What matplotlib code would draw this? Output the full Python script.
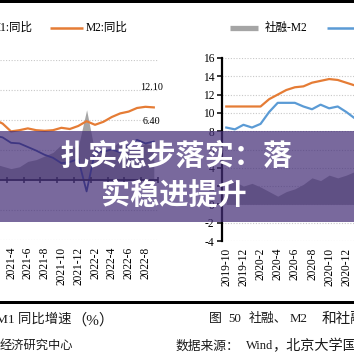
import matplotlib
matplotlib.use("Agg")
import matplotlib.pyplot as plt
import numpy as np
from matplotlib.patches import Rectangle

W = H = 354
SERIF = ['Liberation Serif', 'Noto Sans CJK SC']
CJK = ['Noto Sans CJK SC', 'Liberation Serif']

# ---------------- data ----------------
left_months = ['2021-1', '2021-2', '2021-3', '2021-4', '2021-5', '2021-6', '2021-7',
               '2021-8', '2021-9', '2021-10', '2021-11', '2021-12', '2022-1', '2022-2',
               '2022-3', '2022-4', '2022-5', '2022-6', '2022-7', '2022-8', '2022-9']
m2_left = [9.4, 10.1, 9.4, 8.1, 8.3, 8.6, 8.3, 8.2, 8.3, 8.7, 8.5, 9.0, 9.8, 9.2,
           9.7, 10.5, 11.1, 11.4, 12.0, 12.2, 12.1]
m1_left = [14.7, 7.4, 7.1, 6.2, 6.1, 5.5, 4.9, 4.2, 3.7, 2.8, 3.0, 3.5, -1.9, 4.7,
           4.7, 5.1, 4.6, 5.8, 6.7, 6.1, 6.4]
left_tick_labels = ['2021-4', '2021-6', '2021-8', '2021-10', '2021-12',
                    '2022-2', '2022-4', '2022-6', '2022-8']
left_end_labels = ['12.10', '6.40']

right_months = ['2019-10', '2019-11', '2019-12', '2020-1', '2020-2', '2020-3', '2020-4',
                '2020-5', '2020-6', '2020-7', '2020-8', '2020-9', '2020-10', '2020-11',
                '2020-12', '2021-1', '2021-2']
tsf_right = [10.7, 10.7, 10.7, 10.7, 10.7, 11.5, 12.0, 12.5, 12.8, 12.9, 13.3, 13.5,
             13.7, 13.6, 13.3, 13.0, 13.3]
m2_right = [8.4, 8.2, 8.7, 8.4, 8.8, 10.1, 11.1, 11.1, 11.1, 10.7, 10.4, 10.9, 10.5,
            10.7, 10.1, 9.4, 10.1]
right_tick_labels = ['2019-10', '2019-12', '2020-2', '2020-4', '2020-6', '2020-8',
                     '2020-10', '2020-12']
right_yticks = [-4, -2, 0, 2, 4, 6, 8, 10, 12, 14, 16]

ORANGE = '#E57C35'
BLUE_L = '#2E4A9C'
BLUE_R = '#5B9BD5'
GREY = '#A5A5A5'
TXT = '#1a1a1a'

fig = plt.figure(figsize=(W / 100, H / 100), dpi=100)
fig.patch.set_facecolor('white')


def px_axes(x0, y0, x1, y1, **kw):
    return fig.add_axes([x0 / W, 1 - y1 / H, (x1 - x0) / W, (y1 - y0) / H], **kw)


# ---------------- left chart ----------------
axL = px_axes(0, 60, 158, 240)
xi = np.arange(len(left_months))
m2a = np.array(m2_left)
m1a = np.array(m1_left)
axL.fill_between(xi, 0, m2a - m1a, color=GREY, lw=0, zorder=1)
axL.plot(xi, m2a, color=ORANGE, lw=1.6, zorder=3)
axL.plot(xi, m1a, color=BLUE_L, lw=1.3, zorder=3)
axL.axhline(0, color='#1a1a2a', lw=1.3, zorder=4)
tick_pos = np.arange(2.5, 21, 2)
axL.plot(tick_pos, np.zeros_like(tick_pos), ls='none', marker='|', ms=5,
         mew=1.1, color='#1a1a2a', zorder=4, clip_on=False)
axL.set_xlim(1.69, 20.5)
axL.set_ylim(-10, 20)
for s in axL.spines.values():
    s.set_visible(False)
axL.set_yticks([-10, -5, 5, 10, 15, 20])
axL.tick_params(axis='y', length=0, labelleft=False)
axL.yaxis.grid(True, ls=(0, (1, 1.5)), color='#c8c8c8', lw=0.8)
axL.set_axisbelow(True)
axL.set_xticks(np.arange(3, 20, 2))
axL.set_xticklabels(left_tick_labels, rotation=90, family=SERIF, fontsize=8.3)
axL.tick_params(axis='x', length=0, pad=5)
axL.text(xi[-1] - 0.3, m2a[-1] + 2.6, left_end_labels[0], ha='center', va='bottom',
         family=SERIF, fontsize=7.3, clip_on=False)
axL.text(xi[-1] - 0.3, m1a[-1] + 2.6, left_end_labels[1], ha='center', va='bottom',
         family=SERIF, fontsize=7.3, clip_on=False)

# ---------------- right chart ----------------
axR = px_axes(222, 58, 354, 241)
xj = np.arange(len(right_months))
tsf = np.array(tsf_right)
m2r = np.array(m2_right)
axR.fill_between(xj, 0, tsf - m2r, color=GREY, lw=0, zorder=1)
axR.plot(xj, tsf, color=ORANGE, lw=1.6, zorder=3)
axR.plot(xj, m2r, color=BLUE_R, lw=1.6, zorder=3)
axR.set_xlim(-0.5, 14.9)
axR.set_ylim(-4, 16)
for k in ['top', 'right', 'bottom']:
    axR.spines[k].set_visible(False)
axR.spines['left'].set_linewidth(1.6)
axR.spines['left'].set_color('black')
axR.set_yticks(right_yticks)
axR.set_yticklabels([str(v) for v in right_yticks], family=SERIF, fontsize=8.3)
axR.tick_params(axis='y', length=3.5, width=1.1, direction='out', pad=2)
axR.yaxis.grid(True, ls=(0, (1, 1.5)), color='#c8c8c8', lw=0.8)
axR.set_axisbelow(True)
axR.set_xticks(np.arange(0, 15, 2))
axR.set_xticklabels(right_tick_labels, rotation=90, family=SERIF, fontsize=8.3)
axR.tick_params(axis='x', length=0, pad=5)

# ---------------- overlay (legends, frames, banner, captions) ----------------
ov = fig.add_axes([0, 0, 1, 1], zorder=10)
ov.set_xlim(0, W)
ov.set_ylim(H, 0)
ov.axis('off')
ov.patch.set_alpha(0)

# top black band & bottom rule
ov.add_patch(Rectangle((0, 0), W, 3, color='black', lw=0))
ov.add_patch(Rectangle((0, 300.5), W, 3.5, color='black', lw=0))

# legends
ov.text(33, 28, 'M1:同比', ha='right', va='center', family=SERIF, fontsize=8.3)
ov.plot([50, 83], [28, 28], color=ORANGE, lw=1.8, solid_capstyle='butt')
ov.text(86, 28, 'M2:同比', ha='left', va='center', family=SERIF, fontsize=8.3)
ov.plot([230, 258], [28, 28], color=GREY, lw=3.8, solid_capstyle='butt')
ov.text(265, 28, '社融-M2', ha='left', va='center', family=SERIF, fontsize=8.3)
ov.plot([327, 360], [28, 28], color=BLUE_R, lw=1.8, solid_capstyle='butt')

# banner
ov.add_patch(Rectangle((0, 131), W, 91, facecolor='#452F78', alpha=0.72, lw=0))
ov.text(176.5, 156, '扎实稳步落实：落', ha='center', va='center', color='white',
        family=CJK, fontsize=21, fontweight='bold')
ov.text(173.5, 195, '实稳进提升', ha='center', va='center', color='white',
        family=CJK, fontsize=21, fontweight='bold')

# captions (left)
ov.text(-4, 320, 'M1 同比增速', ha='left', va='center', family=SERIF,
        fontsize=9.6, color=TXT)
ov.text(71, 320, '（%）', ha='left', va='center', family=SERIF,
        fontsize=11, color=TXT)
ov.text(0, 345, '经济研究中心', ha='left', va='center', family=CJK,
        fontsize=8.8, color=TXT)

# captions (right)
ov.text(209, 319, '图', ha='left', va='center', family=SERIF, fontsize=9.3, color=TXT)
ov.text(228, 319, '50', ha='left', va='center', family=SERIF, fontsize=9.3, color=TXT)
ov.text(249, 319, '社融、', ha='left', va='center', family=SERIF, fontsize=9.3, color=TXT)
ov.text(290, 319, 'M2', ha='left', va='center', family=SERIF, fontsize=9.3, color=TXT)
ov.text(322, 319, '和社融-M2（%）', ha='left', va='center', family=SERIF,
        fontsize=10.5, color=TXT)
ov.text(176, 346, '数据来源：', ha='left', va='center', family=CJK, fontsize=9.2, color=TXT)
ov.text(246, 346, 'Wind', ha='left', va='center', family=SERIF, fontsize=9.0, color=TXT)
ov.text(272, 346, '，北京大学国家发展研究院', ha='left', va='center', family=CJK,
        fontsize=10.2, color=TXT)

fig.savefig('out.png', dpi=100)
